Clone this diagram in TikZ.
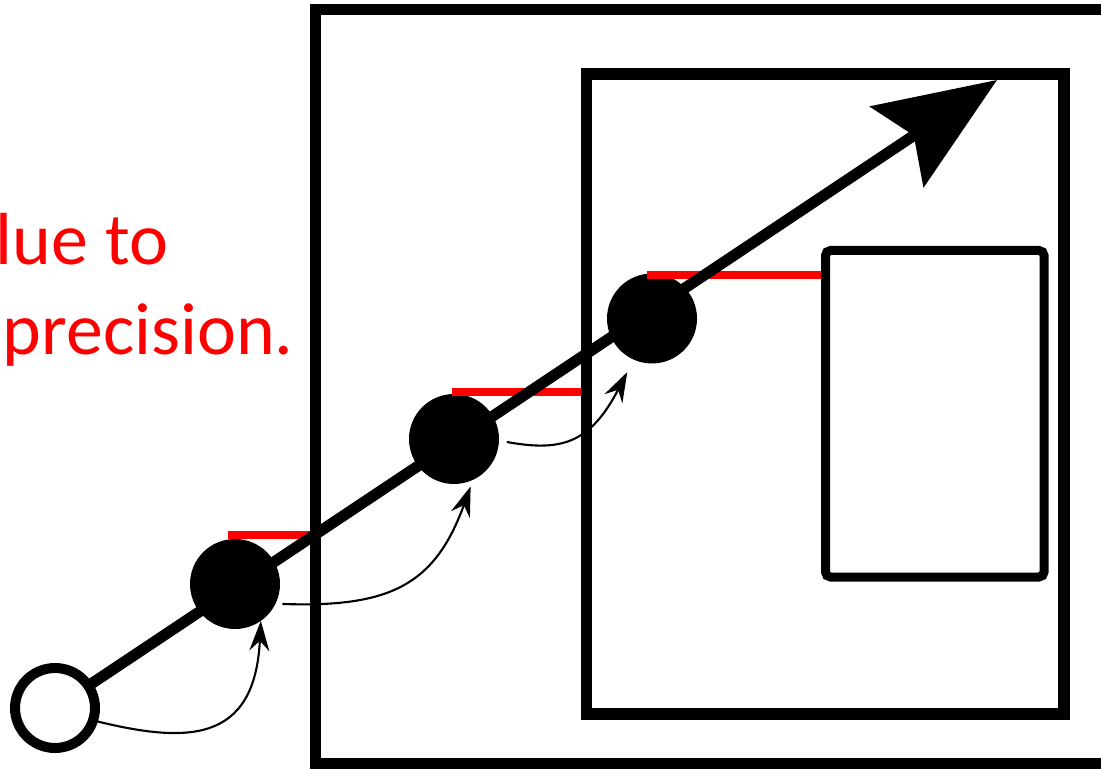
\documentclass[tikz,border=0pt]{standalone}
\usepackage{fontspec}
\usepackage{xcolor}
\usepackage{tikz}
\usetikzlibrary{arrows.meta,calc}
\newfontfamily\slidefont{Carlito}
\definecolor{errred}{HTML}{FF0000}

\begin{document}
\begin{tikzpicture}[
    every node/.style={inner sep=0pt, outer sep=0pt},
    dot/.style={circle, fill=black, minimum size=0.9cm},
    start/.style={circle, draw=black, fill=white, line width=0.1cm, minimum size=0.8cm},
    hop/.style={line width=0.6pt, -{Stealth[length=3mm, width=2mm, inset=1mm]}},
    errbar/.style={errred, line width=0.085cm},
    frame/.style={draw=black, line width=0.11cm}]
    \useasboundingbox (0,0) rectangle (11.01,7.68);
    \clip (0,0) rectangle (11.01,7.68);

    % text cut off at the left edge
    \node[anchor=base west, text=errred, font=\slidefont\fontsize{21}{26}\selectfont] (line1) at (-0.04,5.03) {lue to};
    \node[anchor=base west, text=errred, font=\slidefont\fontsize{21}{26}\selectfont] (line2) at (0.03,4.13) {precision.};

    % points along the ray
    \node[start] (src) at (0.55,0.60) {};
    \node[dot] (dot1) at (2.35,1.84) {};
    \node[dot] (dot2) at (4.54,3.29) {};
    \node[dot] (dot3) at (6.52,4.495) {};
    \coordinate (tip) at (9.97,6.88);

    % box corners
    \coordinate (outerSW) at (3.155,0.05);
    \coordinate (outerNE) at (11.5,7.585);
    \coordinate (innerSW) at (5.865,0.54);
    \coordinate (innerNE) at (10.64,6.94);
    \coordinate (coreSW) at (8.255,1.91);
    \coordinate (coreNE) at (10.44,5.175);

    % steps between the points
    \draw[hop] (src.-18) .. controls +(0.92,-0.23) and +(-0.06,-1.24) .. (dot1.-55);
    \draw[hop, shorten <=0.07cm, shorten >=0.07cm] (dot1.-26) .. controls +(1.15,-0.04) and +(-0.38,-1.05) .. (dot2.-65);
    \draw[hop, shorten <=0.08cm, shorten >=0.14cm] (dot2.-2) .. controls +(0.61,-0.11) and +(-0.44,-0.85) .. (dot3.-114);

    % distance to the next box
    \coordinate (r1) at ([shift={(-0.07,0.04)}]dot1.north);
    \coordinate (r2) at ([shift={(-0.02,0.02)}]dot2.north);
    \coordinate (r3) at ([shift={(-0.05,-0.015)}]dot3.north);
    \draw[errbar] (r1) -- (r1 -| outerSW);
    \draw[errbar] (r2) -- (r2 -| innerSW);
    \draw[errbar] (r3) -- (r3 -| coreSW);

    % nested boxes
    \draw[frame] (outerSW) rectangle (outerNE);
    \draw[frame, line width=0.115cm] (innerSW) rectangle (innerNE);
    \draw[frame, line width=0.09cm, rounded corners=0.5mm] (coreSW) rectangle (coreNE);

    % the ray
    \draw[line width=0.11cm, -{Stealth[length=1.2cm, width=0.96cm, inset=0.2cm]}] (src) -- (tip);
\end{tikzpicture}
\end{document}
